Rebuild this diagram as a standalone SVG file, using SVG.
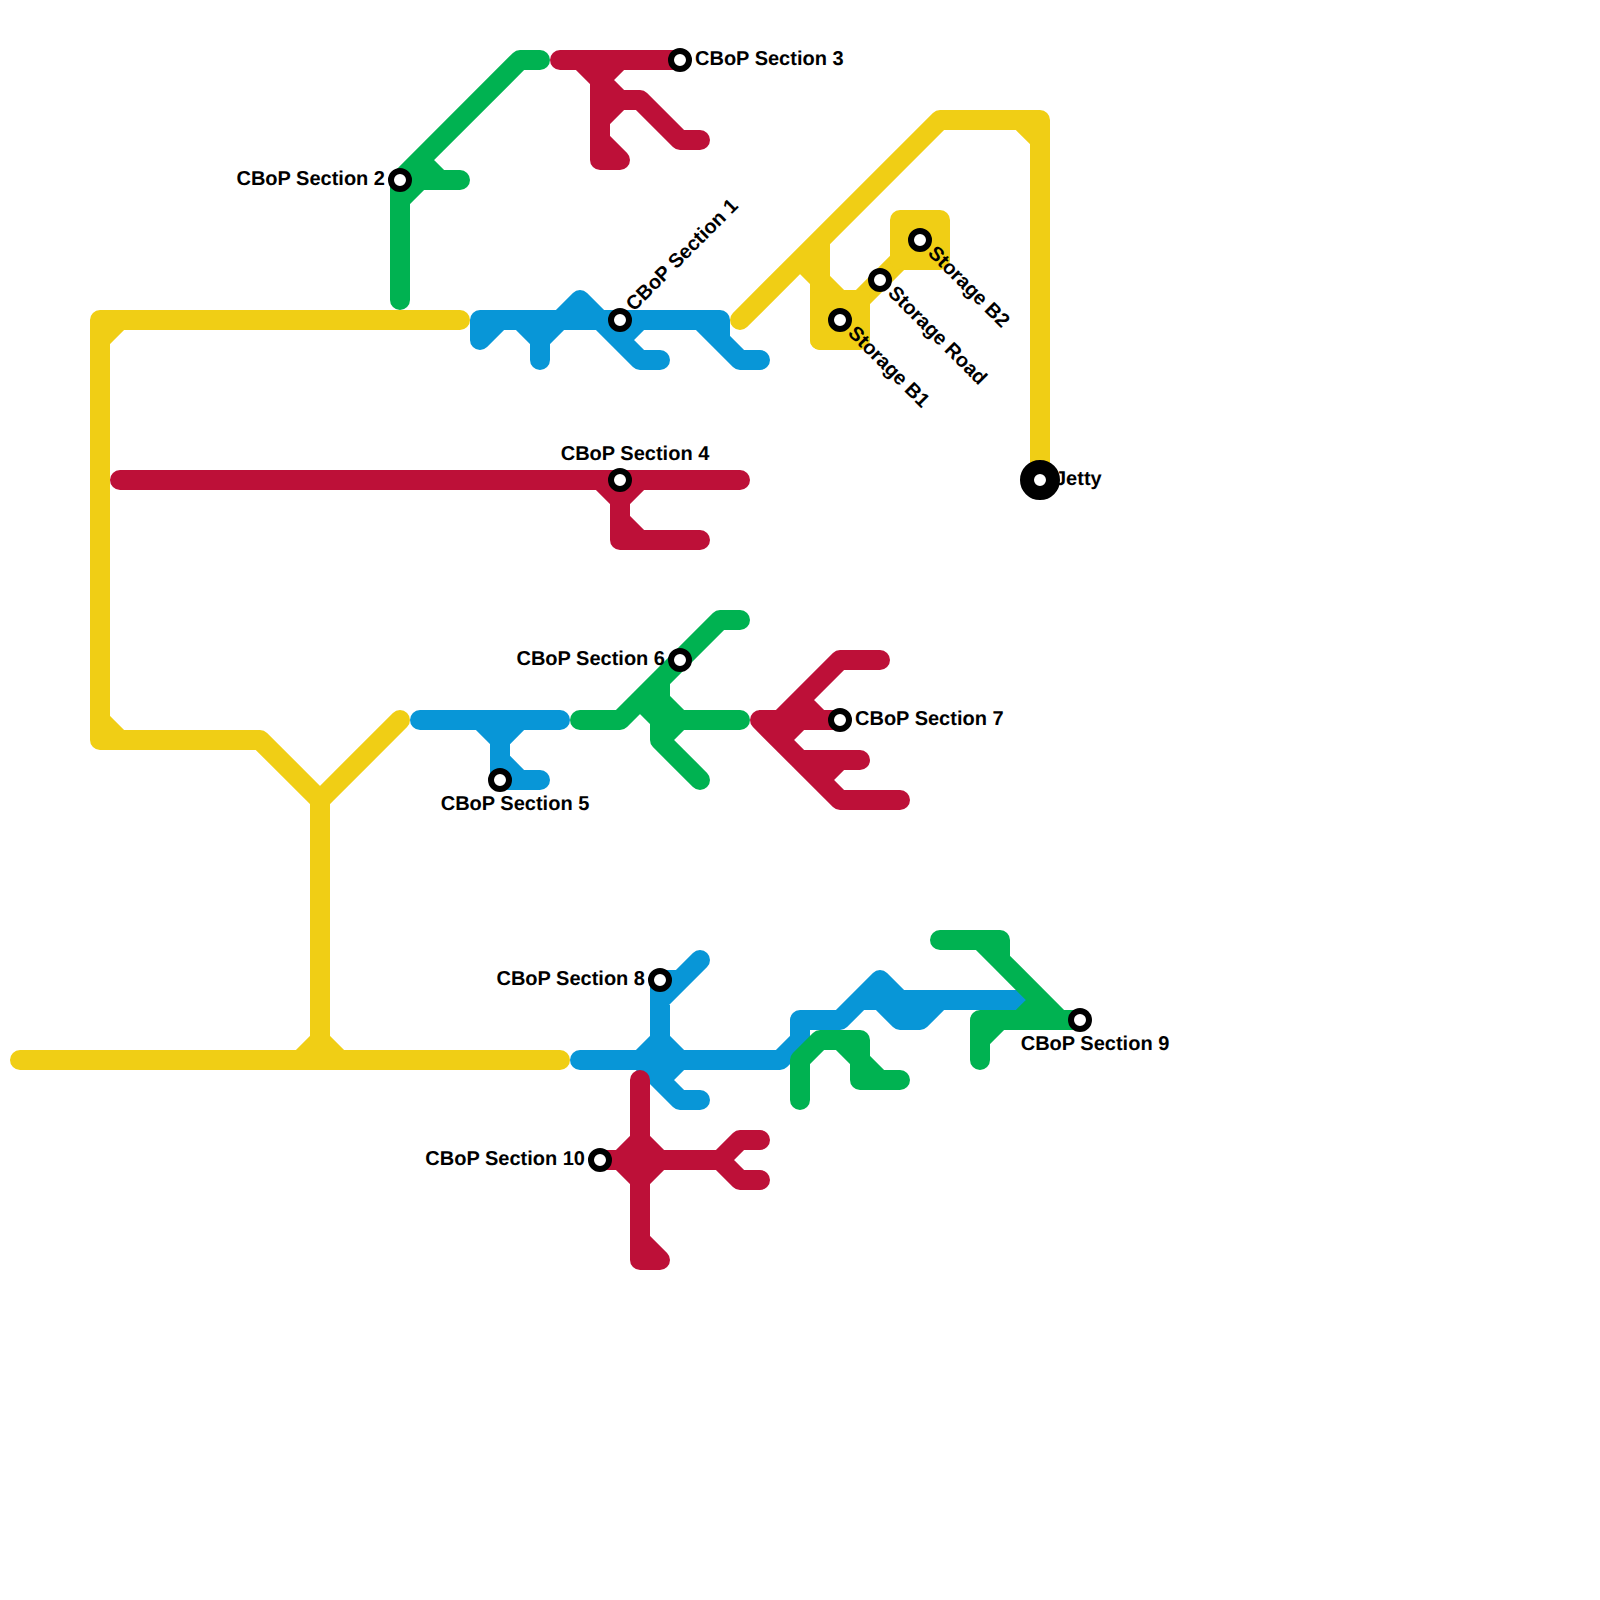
<svg xmlns="http://www.w3.org/2000/svg" width="1600" height="1600" viewBox="0 0 1600 1600">
<style>
.l{fill:none;stroke-width:20;stroke-linecap:round;stroke-linejoin:round}
.y{stroke:#f0ce15}.b{stroke:#0896d7}.g{stroke:#00b251}.r{stroke:#bd1038}
.yf{fill:#f0ce15}
.s{fill:#fff;stroke:#000;stroke-width:6}
.t{fill:#fff;stroke:#000;stroke-width:14}
text{font-family:"Liberation Sans",Arial,sans-serif;font-size:20px;font-weight:700;fill:#000;text-rendering:geometricPrecision}
</style>
<rect width="1600" height="1600" fill="#fff"/>
<g id="connectors">
<g id="line-yellow">
<path class="l y" d="M460 320H100V740H260L320 800V1060M100 340L120 320M100 720L120 740M320 800L400 720M20 1060H560M300 1060L320 1040L340 1060"/>
<path class="l y" d="M740 320L940 120H1040V480M1020 120L1040 140M820 240V340M800 260L820 280L840 300H860L900 260"/>
<path class="l y yf" d="M820 300H860V340H820Z"/>
<path class="l y yf" d="M900 220H940V260H900Z"/>
</g>
<g id="line-blue">
<path class="l b" d="M480 340V320H720V340L740 360H760M480 340L500 320M520 320L540 340V360M540 340L560 320L580 300L600 320L640 360H660M620 340L640 320M640 360L620 340M700 320L740 360"/>
<path class="l b" d="M420 720H560M480 720L500 740V780H540M520 720L500 740M500 760L520 780"/>
<path class="l b" d="M580 1060H780L800 1040V1020H840L880 980L900 1000H1020M660 980V1060M660 980H680L700 960M660 1000L680 980M640 1060L660 1040L680 1060M640 1060L680 1100H700M680 1060L660 1080L680 1100M840 1020L860 1000H940L920 1020H900L880 1000"/>
</g>
<g id="line-green">
<path class="l g" d="M400 300V180L520 60H540M400 200L420 180H460M420 160L440 180"/>
<path class="l g" d="M580 720H620L720 620H740M660 680V740L700 780M660 700L680 720H740M680 720L660 740M640 700L660 720"/>
<path class="l g" d="M800 1100V1060L820 1040H860V1080H900M840 1040L860 1060L880 1080"/>
<path class="l g" d="M940 940H1000V960L1060 1020H1080M980 940L1000 960M980 1060V1020H1080M980 1040L1000 1020M1020 1020L1040 1000"/>
</g>
<g id="line-red">
<path class="l r" d="M560 60H680M580 60L600 80V160H620L600 140M620 60L600 80L620 100H640L680 140H700M600 120L620 100"/>
<path class="l r" d="M120 480H740M600 480L620 500V540H700M640 480L620 500M620 520L640 540"/>
<path class="l r" d="M760 720H840M760 720L840 800H900M780 720L840 660H880M800 700L820 720M800 720L780 740M800 760H860M820 780L840 760"/>
<path class="l r" d="M640 1080V1260H660L640 1240M600 1160H720L740 1140H760M720 1160L740 1180H760M620 1160L640 1140L660 1160L640 1180Z"/>
</g>
</g>
<g id="station-section-1"><circle class="s" cx="620" cy="320" r="9"/><text x="634" y="312" transform="rotate(-45 634 312)">CBoP Section 1</text></g>
<g id="station-section-2"><circle class="s" cx="400" cy="180" r="9"/><text x="385" y="185" text-anchor="end">CBoP Section 2</text></g>
<g id="station-section-3"><circle class="s" cx="680" cy="60" r="9"/><text x="695" y="65">CBoP Section 3</text></g>
<g id="station-section-4"><circle class="s" cx="620" cy="480" r="9"/><text x="635" y="460" text-anchor="middle">CBoP Section 4</text></g>
<g id="station-section-5"><circle class="s" cx="500" cy="780" r="9"/><text x="515" y="810" text-anchor="middle">CBoP Section 5</text></g>
<g id="station-section-6"><circle class="s" cx="680" cy="660" r="9"/><text x="665" y="665" text-anchor="end">CBoP Section 6</text></g>
<g id="station-section-7"><circle class="s" cx="840" cy="720" r="9"/><text x="855" y="725">CBoP Section 7</text></g>
<g id="station-section-8"><circle class="s" cx="660" cy="980" r="9"/><text x="645" y="985" text-anchor="end">CBoP Section 8</text></g>
<g id="station-section-9"><circle class="s" cx="1080" cy="1020" r="9"/><text x="1095" y="1050" text-anchor="middle">CBoP Section 9</text></g>
<g id="station-section-10"><circle class="s" cx="600" cy="1160" r="9"/><text x="585" y="1165" text-anchor="end">CBoP Section 10</text></g>
<g id="station-storage-b1"><circle class="s" cx="840" cy="320" r="9"/><text x="847" y="334" transform="rotate(45 847 334)">Storage B1</text></g>
<g id="station-storage-road"><circle class="s" cx="880" cy="280" r="9"/><text x="887" y="294" transform="rotate(45 887 294)">Storage Road</text></g>
<g id="station-storage-b2"><circle class="s" cx="920" cy="240" r="9"/><text x="927" y="254" transform="rotate(45 927 254)">Storage B2</text></g>
<g id="station-jetty"><circle class="t" cx="1040" cy="480" r="13"/><text x="1055" y="485">Jetty</text></g>
</svg>
